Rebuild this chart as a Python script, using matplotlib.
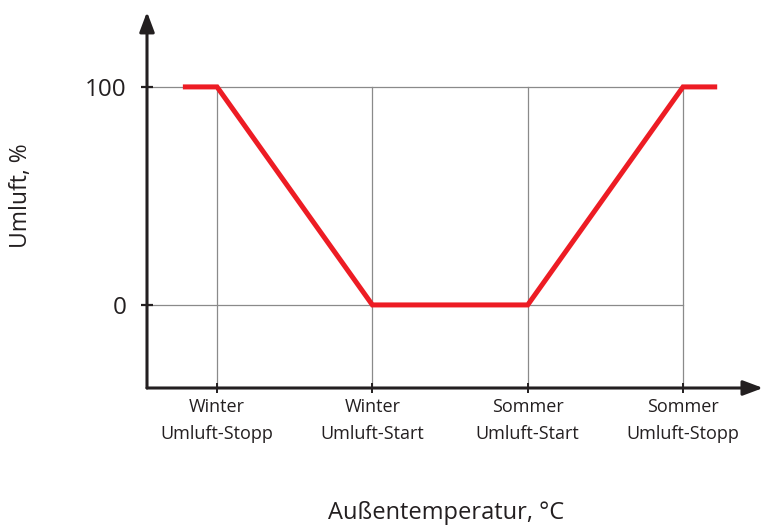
import matplotlib
matplotlib.use("Agg")
import matplotlib.pyplot as plt

plt.rcParams['font.family'] = ['Open Sans', 'DejaVu Sans']

# Kategorien auf der x-Achse
positionen = [1, 2, 3, 4]
kategorien = ['Winter\nUmluft-Stopp', 'Winter\nUmluft-Start',
              'Sommer\nUmluft-Start', 'Sommer\nUmluft-Stopp']

# Kennlinie Umluft (%)
kurve_x = [0.78, 1, 2, 3, 4, 4.22]
kurve_y = [100, 100, 0, 0, 100, 100]

y_ticks = [0, 100]

achse = '#231f20'
rot = '#ed1c24'
gitter = '#8a8a8a'

fig = plt.figure(figsize=(7.63, 5.26), dpi=100)
ax = fig.add_axes([147 / 763, 138 / 526, 598 / 763, 358 / 526])
ax.set_xlim(0.549, 4.399)
ax.set_ylim(-38.1, 126.1)

for s in ax.spines.values():
    s.set_visible(False)

# Gitterlinien (nur bis zur letzten Kategorie)
for yt in y_ticks:
    ax.plot([0.549, positionen[-1]], [yt, yt], color=gitter, lw=0.9, zorder=1)
for xp in positionen:
    ax.plot([xp, xp], [-38.1, y_ticks[-1]], color=gitter, lw=0.9, zorder=1)

# Achsen mit Pfeilspitzen
ax.annotate('', xy=(0.549, 134.4), xytext=(0.549, -38.1),
            arrowprops=dict(arrowstyle='-|>,head_length=1.2,head_width=0.45',
                            lw=2.2, color=achse, shrinkA=0, shrinkB=0),
            annotation_clip=False, zorder=3)
ax.annotate('', xy=(4.515, -38.1), xytext=(0.549, -38.1),
            arrowprops=dict(arrowstyle='-|>,head_length=1.2,head_width=0.45',
                            lw=2.2, color=achse, shrinkA=0, shrinkB=0),
            annotation_clip=False, zorder=3)

ax.plot(kurve_x, kurve_y, color=rot, lw=3.6, solid_capstyle='butt',
        solid_joinstyle='miter', zorder=4)

ax.set_yticks(y_ticks)
ax.set_yticklabels([str(v) for v in y_ticks])
ax.set_xticks(positionen)
ax.set_xticklabels(kategorien, linespacing=1.62)
ax.tick_params(axis='y', direction='inout', length=9, width=1.6, color=achse,
               labelsize=17.5, labelcolor=achse, pad=10)
ax.tick_params(axis='x', direction='inout', length=7, width=1.4, color=achse,
               labelsize=13, labelcolor=achse, pad=4)

ax.set_xlabel('Außentemperatur, °C', fontsize=17, color=achse, labelpad=42)
ax.set_ylabel('Umluft, %', fontsize=16.5, color=achse)
ax.yaxis.set_label_coords(-0.19, 0.536)

fig.savefig('out.png', dpi=100)
